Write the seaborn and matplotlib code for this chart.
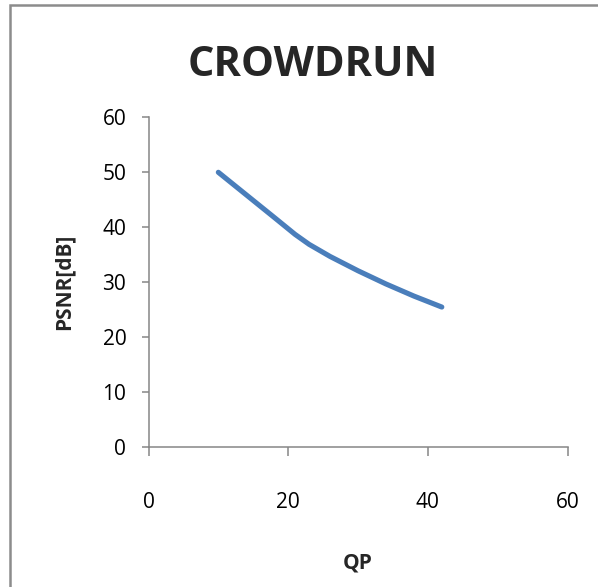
import matplotlib
matplotlib.use("Agg")
import matplotlib.pyplot as plt
import seaborn as sns
import pandas as pd
from matplotlib.patches import Rectangle

# Data
qp = [10, 14, 18, 21, 23, 26, 30, 34, 38, 42]
psnr = [50.0, 45.9, 41.8, 38.7, 36.9, 34.7, 32.1, 29.7, 27.5, 25.5]
title = "CROWDRUN"
x_label = "QP"
y_label = "PSNR[dB]"
x_ticks = [0, 20, 40, 60]
y_ticks = [0, 10, 20, 30, 40, 50, 60]

sns.set_theme(style="white")
plt.rcParams['font.family'] = ['Open Sans', 'DejaVu Sans']

W, H = 598, 587
fig = plt.figure(figsize=(W / 100, H / 100), dpi=100)
ax = fig.add_axes([148.5 / W, 1 - 447.3 / H, (567.5 - 148.5) / W, (447.3 - 117.3) / H])

df = pd.DataFrame({"QP": qp, "PSNR": psnr})
sns.lineplot(data=df, x="QP", y="PSNR", ax=ax, color="#4A7EBB", linewidth=3.7,
             solid_capstyle="round", solid_joinstyle="round")

axis_col = "#868686"
ax.set_xlim(0, 60)
ax.set_ylim(0, 60)
ax.set_xticks(x_ticks)
ax.set_yticks(y_ticks)
ax.set_xticklabels([str(v) for v in x_ticks])
ax.set_yticklabels([str(v) for v in y_ticks])
for s in ["top", "right"]:
    ax.spines[s].set_visible(False)
for s in ["left", "bottom"]:
    ax.spines[s].set_color(axis_col)
    ax.spines[s].set_linewidth(1.1)
ax.tick_params(axis="x", direction="out", length=6.5, width=1.1, color=axis_col,
               labelsize=15, labelcolor="black", pad=26, bottom=True)
ax.tick_params(axis="y", direction="out", length=5, width=1.1, color=axis_col,
               labelsize=15, labelcolor="black", pad=11, left=True)
ax.grid(False)
ax.set_facecolor("white")

ax.set_xlabel(x_label, fontsize=15, fontweight="bold", va="center")
ax.set_ylabel(y_label, fontsize=15, fontweight="bold", va="center")
ax.xaxis.set_label_coords(0.5, (447.3 - 563) / (447.3 - 117.3))
ax.yaxis.set_label_coords((64 - 148.5) / (567.5 - 148.5), 0.5)

fig.text(313 / W, 1 - 66 / H, title, fontsize=30, fontweight="bold",
         ha="center", va="center")

fig.patches.append(Rectangle((10 / W, -0.1), 1.2, 1 - 5 / H + 0.1, transform=fig.transFigure,
                             fill=False, edgecolor="#8C8C8C", linewidth=1.8, zorder=-1))

fig.savefig("out.png", dpi=100, facecolor="white")
